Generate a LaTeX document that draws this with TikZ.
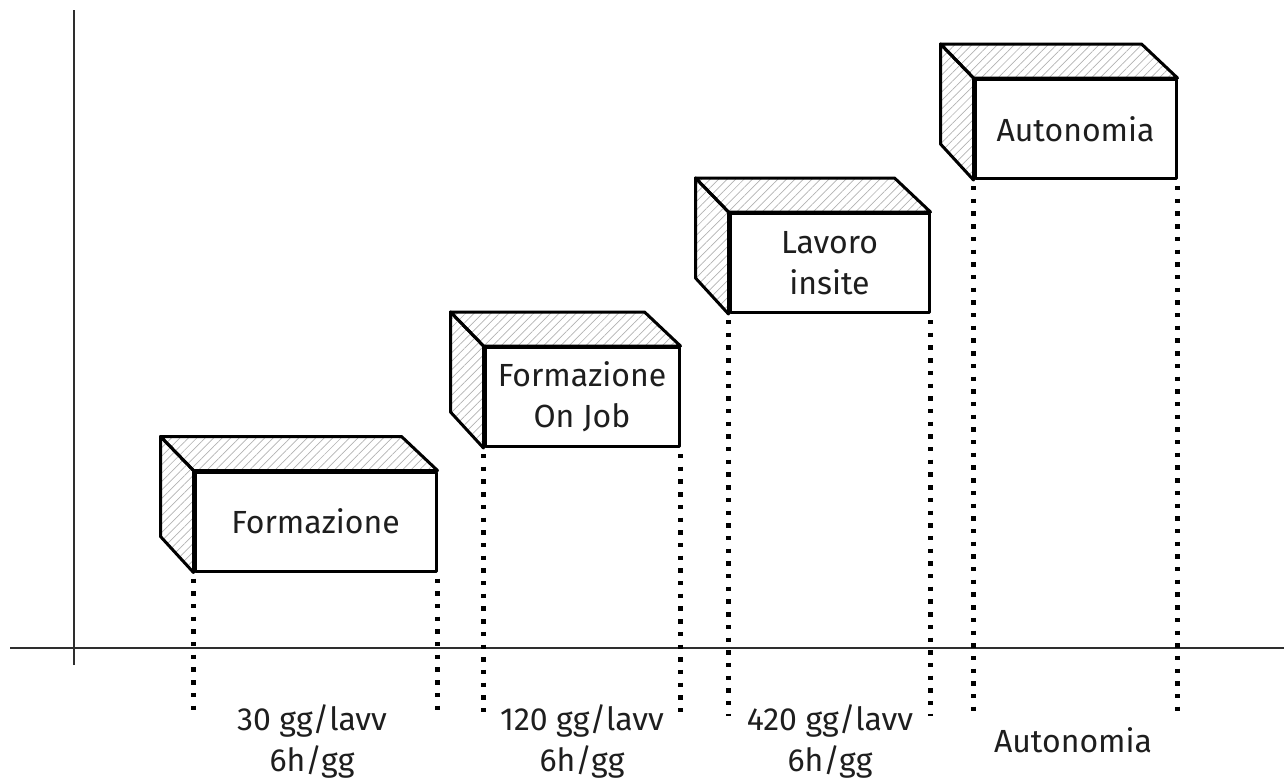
\documentclass[tikz,border=0pt]{standalone}
\usepackage{fontspec}
\setmainfont{Fira Sans}
\usetikzlibrary{patterns.meta}
\definecolor{ink}{HTML}{1E1E1E}
\definecolor{axisc}{HTML}{2E2E2E}
\begin{document}
\begin{tikzpicture}[x=1pt,y=-1pt,
  txt/.style={font=\fontsize{32}{41}\selectfont, text=ink, align=center, inner sep=0pt},
  front/.style={draw=black, line width=3pt, line join=round, fill=white, rectangle,
    minimum width=#1, minimum height=99pt, inner sep=0pt, txt},
  hatch/.style={draw=black, line width=3pt, line join=round,
    pattern={Lines[angle=45,distance=6pt,line width=0.7pt]}, pattern color=gray!60},
  dotline/.style={line width=4.4pt, dash pattern=on 4.4pt off 8.3pt, draw=black, shorten <=6pt},
  axis/.style={line width=1.8pt, draw=axisc}]
\path[use as bounding box] (0,0) rectangle (1284,779);

% axes
\coordinate (v0) at (74,665);
\coordinate (v1) at (74,10);
\coordinate (h0) at (10,648);
\coordinate (h1) at (1284,648);
\draw[axis] (v0) -- (v1);
\draw[axis] (h0) -- (h1);

% boxes
\newcommand\cuboid[5]{% name, cx, cy, width, text
  \node[front=#4] (#1) at (#2,#3) {#5};
  \draw[hatch] (#1.north west) -- ++(-33,-34) -- ++(#4,0) -- (#1.north east) -- cycle;
  \draw[hatch] (#1.north west) -- ++(-33,-34) -- ++(0,100) -- (#1.south west) -- cycle;
}
\cuboid{f1}{315.5}{521.5}{241}{Formazione}
\cuboid{f2}{582}{397}{194}{Formazione\\On Job}
\cuboid{f3}{829.5}{263}{199}{Lavoro\\insite}
\cuboid{f4}{1075.5}{129}{201}{Autonomia}

% dotted drop lines
\coordinate (bot) at (0,716);
\foreach \n in {f1,f2,f3,f4}{
  \draw[dotline] (\n.south west) -- (\n.south west |- bot);
  \draw[dotline] (\n.south east) -- (\n.south east |- bot);
}

% bottom labels
\node[txt] (l1) at (312,741) {30 gg/lavv\\6h/gg};
\node[txt] (l2) at (582,741) {120 gg/lavv\\6h/gg};
\node[txt] (l3) at (830,741) {420 gg/lavv\\6h/gg};
\node[txt] (l4) at (1073,740) {Autonomia};
\end{tikzpicture}
\end{document}
